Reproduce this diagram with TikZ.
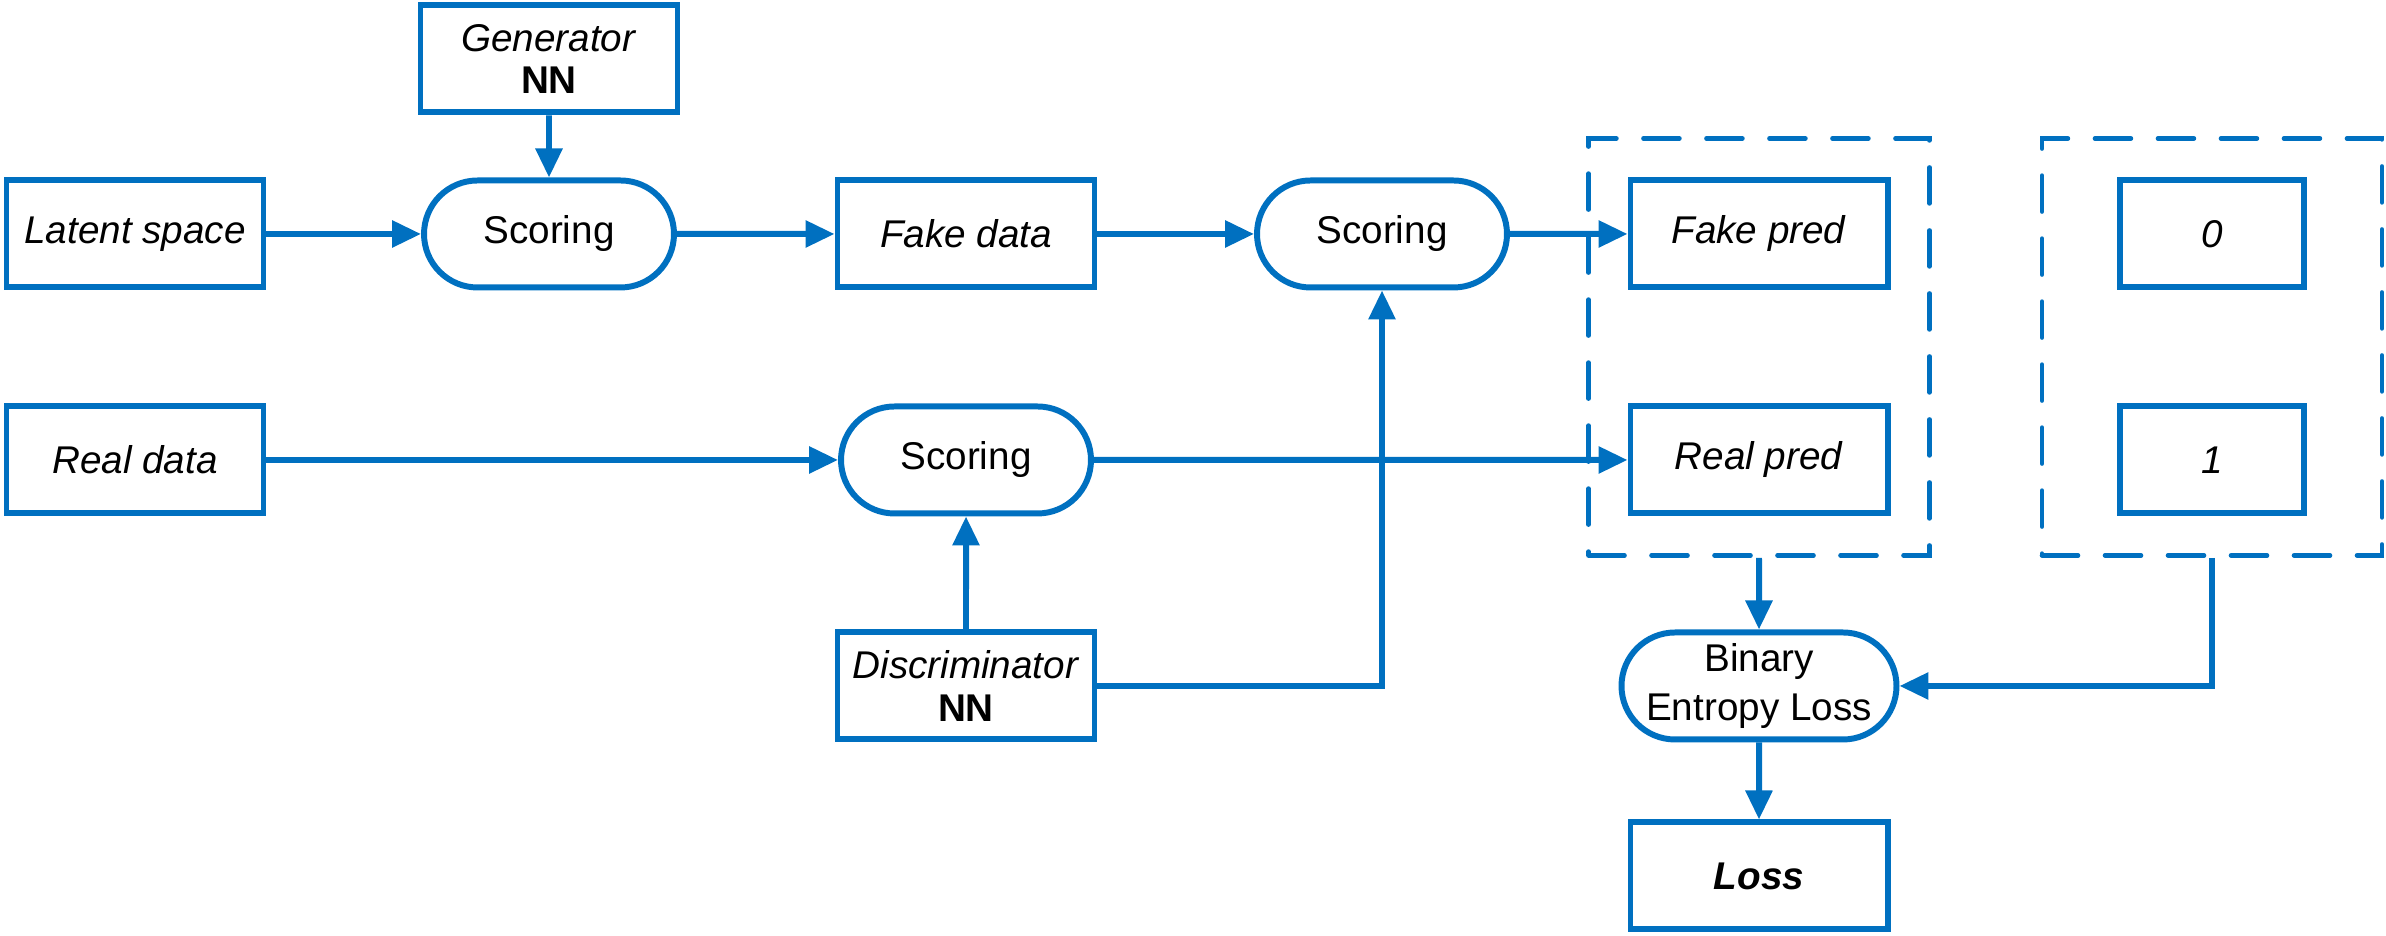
\documentclass[tikz,border=0pt]{standalone}
\usepackage{fontspec}
\setmainfont{Liberation Sans}
\usetikzlibrary{arrows.meta,positioning,fit,shapes.misc}
\definecolor{FlowBlue}{HTML}{0070C0}

\begin{document}
\begin{tikzpicture}[
  font=\fontsize{11}{13}\selectfont,
  box/.style={draw=FlowBlue,line width=1.7pt,minimum width=2.57cm,minimum height=1.07cm,align=center,inner sep=1pt},
  pill/.style={box,rounded rectangle},
  bit/.style={box,minimum width=1.84cm},
  group/.style={draw=FlowBlue,line width=1.3pt,dash pattern=on 3.6mm off 2.7mm,line cap=round},
  flow/.style={-{Triangle[length=2.9mm,width=2.6mm]},FlowBlue,line width=1.7pt}]
  \useasboundingbox (0,0) rectangle (23.86,9.36);
  % generator side
  \node[box] (gen) at (5.49,8.77) {\textit{Generator}\\[-1pt]\textbf{NN}};
  \node[box] (latent) at (1.35,7.02) {\textit{Latent space}};
  \node[pill] (score1) at (5.49,7.02) {Scoring};
  \node[box] (fake) at (9.66,7.02) {\textit{Fake data}};
  \node[pill] (score2) at (13.82,7.02) {Scoring};
  \node[box] (fakepred) at (17.59,7.02) {\textit{Fake pred}};
  \node[bit] (zero) at (22.12,7.02) {\textit{0}};
  % discriminator side
  \node[box] (real) at (1.35,4.76) {\textit{Real data}};
  \node[pill] (score3) at (9.66,4.76) {Scoring};
  \node[box] (realpred) at (17.59,4.76) {\textit{Real pred}};
  \node[bit] (one) at (22.12,4.76) {\textit{1}};
  \node[box] (disc) at (9.66,2.50) {\textit{Discriminator}\\[-1pt]\textbf{NN}};
  \node[pill] (bce) at (17.59,2.50) {Binary\\[1pt]Entropy Loss};
  \node[box] (loss) at (17.59,0.60) {\textbf{\textit{Loss}}};
  % dashed groups
  \node[group,fit=(fakepred)(realpred),inner sep=0.39cm] (preds) {};
  \node[group,fit=(zero)(one),inner xsep=0.75cm,inner ysep=0.39cm] (labels) {};

  \draw[flow] (gen) -- (score1);
  \draw[flow] (latent) -- (score1);
  \draw[flow] (score1) -- (fake);
  \draw[flow] (fake) -- (score2);
  \draw[flow] (score2) -- (fakepred);
  \draw[flow] (real) -- (score3);
  \draw[flow] (score3) -- (realpred);
  \draw[flow] (disc) -- (score3);
  \draw[flow] (disc.east) -| (score2.south);
  \draw[flow] (preds.south) -- (bce);
  \draw[flow] (labels.south) |- (bce.east);
  \draw[flow] (bce) -- (loss);
\end{tikzpicture}
\end{document}
